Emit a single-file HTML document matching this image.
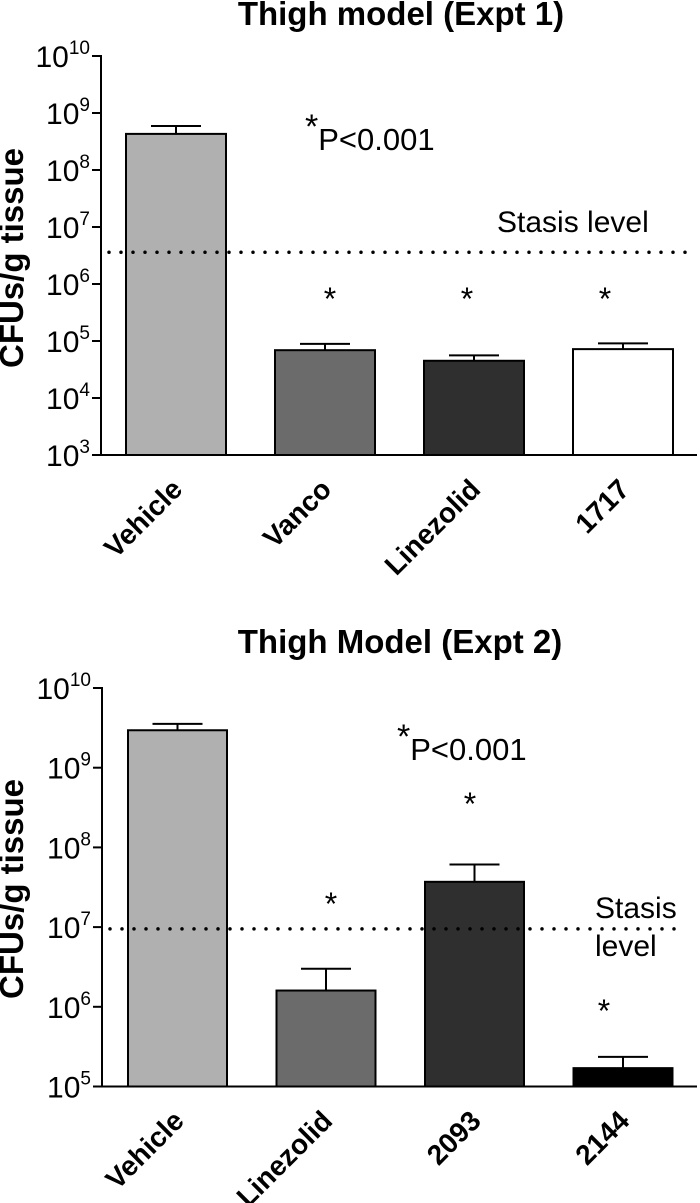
<!DOCTYPE html>
<html><head><meta charset="utf-8"><style>
body{margin:0;background:#fff}
svg{display:block;font-family:"Liberation Sans",Arial,sans-serif}
</style></head><body>
<svg width="700" height="1203" viewBox="0 0 700 1203">
<g id="c1"></g>
<g id="c2"></g>
</svg>
<script>
const cats1 = ["Vehicle","Vanco","Linezolid","1717"];
const vals1 = [4.3e8, 6.9e4, 4.5e4, 7.2e4];
const errs1 = [5.9e8, 8.9e4, 5.6e4, 9.1e4];
const fills1 = ["#b0b0b0","#6b6b6b","#2f2f2f","#ffffff"];
const stasis1 = 3.6e6;
const ticks1 = [3,4,5,6,7,8,9,10];
const cats2 = ["Vehicle","Linezolid","2093","2144"];
const vals2 = [2.95e9, 1.6e6, 3.7e7, 1.7e5];
const errs2 = [3.55e9, 3.0e6, 6.1e7, 2.35e5];
const fills2 = ["#b0b0b0","#6b6b6b","#2f2f2f","#000000"];
const stasis2 = 9.5e6;
const ticks2 = [5,6,7,8,9,10];

const NS="http://www.w3.org/2000/svg";
function mk(parent,tag,attrs,text){const e=document.createElementNS(NS,tag);for(const k in attrs)e.setAttribute(k,attrs[k]);if(text!==undefined)e.textContent=text;parent.appendChild(e);return e;}

function draw(g,o){
  const y=v=>o.y0+(o.maxExp-Math.log10(v))*o.dec;
  const yE=e=>o.y0+(o.maxExp-e)*o.dec;
  const base=yE(o.minExp);
  const t=mk(g,'text',{x:o.titleX,y:o.titleY,'text-anchor':'middle','font-size':33,'font-weight':'bold'},o.title);
  
  const yt=mk(g,'text',{transform:`translate(${o.ytx},${o.yty}) rotate(-90)`,'text-anchor':'middle','font-size':33,'font-weight':'bold'},'CFUs/g tissue');
  
  o.ticks.forEach(e=>{
    const yy=yE(e);
    const tk=mk(g,'line',{x1:o.ax-9,x2:o.ax,y1:yy,y2:yy,stroke:'#000','stroke-width':2});
    
    const tl=mk(g,'text',{x:o.ax-11,y:yy+11,'text-anchor':'end','font-size':30});
    
    mk(tl,'tspan',{},'10');mk(tl,'tspan',{dy:-13,'font-size':19},String(e));
  });
  o.cats.forEach((c,i)=>{
    const x=o.bx+i*o.step, cx=x+o.bw/2;
    const ty=y(o.vals[i]), ey=y(o.errs[i]);
    const el=mk(g,'line',{x1:cx,x2:cx,y1:ey,y2:ty,stroke:'#000','stroke-width':2});
    
    const ec=mk(g,'line',{x1:cx-25,x2:cx+25,y1:ey,y2:ey,stroke:'#000','stroke-width':2});
    
    const r=mk(g,'rect',{x:x,y:ty,width:o.bw,height:base-ty,fill:o.fills[i],stroke:'#000','stroke-width':2});
    
    const lb=mk(g,'text',{transform:`translate(${cx+8},${base+36}) rotate(-45)`,'text-anchor':'end','font-size':28,'font-weight':'bold'},c);
    
  });
  const sy=y(o.stasis);
  const sl=mk(g,'line',{x1:o.ax+8,x2:o.sx2,y1:sy,y2:sy,stroke:'#000','stroke-width':3.5,'stroke-linecap':'round','stroke-dasharray':'0 12'});
  
  const ya=mk(g,'line',{x1:o.ax,x2:o.ax,y1:yE(o.maxExp)-1,y2:base+1,stroke:'#000','stroke-width':2});
  
  const xa=mk(g,'line',{x1:o.ax-9,x2:697,y1:base,y2:base,stroke:'#000','stroke-width':2});
  
  o.stars.forEach(s=>{const st=mk(g,'text',{x:s[0],y:s[1],'text-anchor':'middle','font-size':32},'*');
    });
  const p=mk(g,'text',{x:o.px,y:o.py,'font-size':31});
  
  mk(p,'tspan',{dy:-12,'font-size':34},'*');mk(p,'tspan',{dy:12},'P<0.001');
  o.stasisText.forEach((s,i)=>{const st=mk(g,'text',{x:o.stx,y:o.sty+i*38,'font-size':30},s);
    });
}
draw(document.getElementById('c1'),{title:'Thigh model (Expt 1)',titleX:401,titleY:25,ytx:23,yty:258,ax:101,y0:56,dec:57,maxExp:10,minExp:3,ticks:ticks1,
  cats:cats1,vals:vals1,errs:errs1,fills:fills1,bx:126,bw:100,step:149,stasis:stasis1,sx2:690,
  stars:[[330,310],[467,310],[605,310]],px:305,py:150,stasisText:['Stasis level'],stx:497,sty:232});
draw(document.getElementById('c2'),{title:'Thigh Model (Expt 2)',titleX:400,titleY:653,ytx:23,yty:889,ax:102,y0:688,dec:79.7,maxExp:10,minExp:5,ticks:ticks2,
  cats:cats2,vals:vals2,errs:errs2,fills:fills2,bx:128,bw:99,step:148.5,stasis:stasis2,sx2:685,
  stars:[[331,915],[470,815],[604,1022]],px:397,py:760,stasisText:['Stasis','level'],stx:595,sty:918});
</script>
</body></html>
